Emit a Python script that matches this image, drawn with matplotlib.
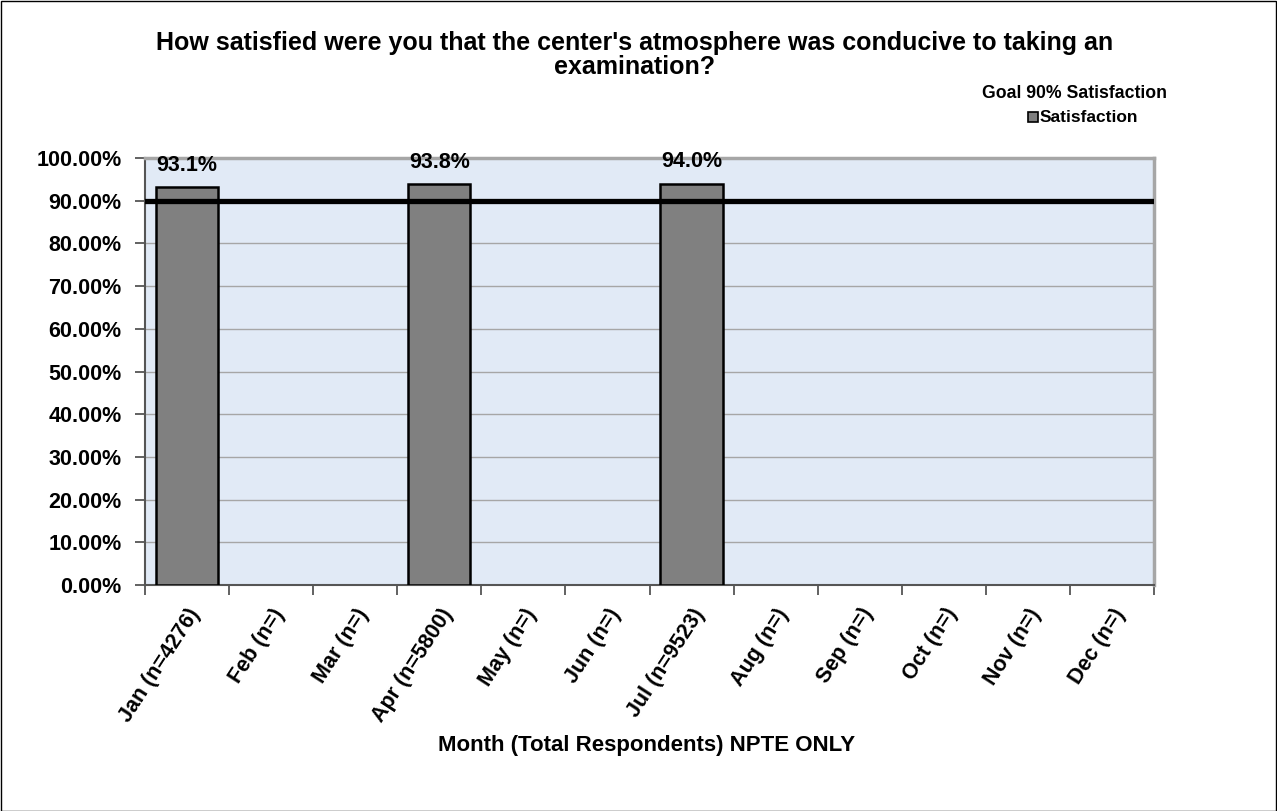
import matplotlib
matplotlib.use("Agg")
import matplotlib.pyplot as plt
import numpy as np
from matplotlib.ticker import FuncFormatter, MultipleLocator

months = ["Jan (n=4276)", "Feb (n=)", "Mar (n=)", "Apr (n=5800)", "May (n=)", "Jun (n=)",
          "Jul (n=9523)", "Aug (n=)", "Sep (n=)", "Oct (n=)", "Nov (n=)", "Dec (n=)"]
satisfaction = [93.1, None, None, 93.8, None, None, 94.0, None, None, None, None, None]
goal = 90.0

plt.rcParams['font.family'] = ['Liberation Sans', 'DejaVu Sans']
plt.rcParams['font.weight'] = 'bold'

W, H = 1277, 811
fig = plt.figure(figsize=(W / 100, H / 100), dpi=100)
ax = fig.add_axes([145 / W, 1 - 585 / H, (1154 - 145) / W, (585 - 158) / H])

ax.set_facecolor('#e1eaf6')
x = np.arange(len(months))
for xi, v in zip(x, satisfaction):
    if v is None:
        continue
    ax.bar(xi, v, width=0.74, color='#808080', edgecolor='black', linewidth=1.8, zorder=3)
    ax.annotate(f"{v:.1f}%", xy=(xi, v), xytext=(0, 16), textcoords='offset points',
                ha='center', va='center', fontsize=15.5, fontweight='bold', zorder=4)

ax.axhline(goal, color='black', linewidth=3.8, zorder=5)

ax.set_xlim(-0.5, len(months) - 0.5)
ax.set_ylim(0, 100)
ax.yaxis.set_major_locator(MultipleLocator(10))
ax.yaxis.set_major_formatter(FuncFormatter(lambda v, p: f"{v:.2f}%"))
ax.grid(axis='y', color='#a6a6a6', linewidth=1, zorder=1)
ax.set_axisbelow(True)

ax.set_xticks(np.arange(-0.5, len(months) + 0.5, 1))
ax.set_xticklabels([])
ax.set_xticks(x, minor=True)
ax.set_xticklabels(months, minor=True, rotation=57, ha='right', va='top',
                   rotation_mode='anchor', fontsize=15.5, fontweight='bold')
ax.tick_params(axis='x', which='minor', length=0, pad=14)
ax.tick_params(axis='x', which='major', length=7, color='#555555', width=1.3)
ax.tick_params(axis='y', length=7, color='#555555', width=1.3, labelsize=15.5, pad=10)
for lbl in ax.get_yticklabels():
    lbl.set_fontweight('bold')

for side in ['top', 'right']:
    ax.spines[side].set_color('#a6a6a6')
    ax.spines[side].set_linewidth(2.5)
for side in ['left', 'bottom']:
    ax.spines[side].set_color('#555555')
    ax.spines[side].set_linewidth(1.5)

fig.text(647 / W, 1 - 746 / H, "Month (Total Respondents) NPTE ONLY",
         ha='center', va='center', fontsize=16, fontweight='bold')

fig.text(635 / W, 1 - 55 / H,
         "How satisfied were you that the center's atmosphere was conducive to taking an\nexamination?",
         ha='center', va='center', fontsize=18, fontweight='bold', linespacing=1.0)

# legend block: goal label and series key
fig.text(1075 / W, 1 - 93 / H, "Goal 90% Satisfaction", ha='center', va='center',
         fontsize=12.7, fontweight='bold')
fig.patches.append(plt.Rectangle((1028 / W, 1 - 122 / H), 10 / W, 10 / H,
                                 transform=fig.transFigure, facecolor='#808080',
                                 edgecolor='black', linewidth=1.2))
fig.text(1040 / W, 1 - 117 / H, "Satisfaction", ha='left', va='center',
         fontsize=12.5, fontweight='bold')

fig.patches.append(plt.Rectangle((0.5 / W, 0.5 / H), 1 - 1.5 / W, 1 - 1.5 / H,
                                 transform=fig.transFigure, fill=False,
                                 edgecolor='black', linewidth=1))

fig.savefig("out.png", dpi=100)
